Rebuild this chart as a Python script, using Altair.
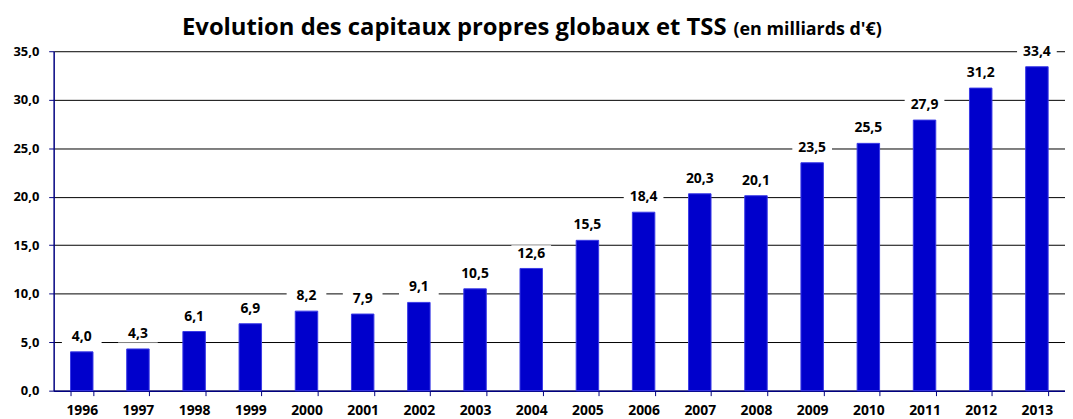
import altair as alt
import pandas as pd

years = ["1996", "1997", "1998", "1999", "2000", "2001", "2002", "2003", "2004",
         "2005", "2006", "2007", "2008", "2009", "2010", "2011", "2012", "2013"]
values = [4.0, 4.3, 6.1, 6.9, 8.2, 7.9, 9.1, 10.5, 12.6,
          15.5, 18.4, 20.3, 20.1, 23.5, 25.5, 27.9, 31.2, 33.4]
y_ticks = [0, 5, 10, 15, 20, 25, 30, 35]
title_main = "Evolution des capitaux propres globaux et TSS"
title_unit = "(en milliards d'€)"

FONT = "Open Sans"
NAVY = "#000080"
BAR = "#0000CC"

df = pd.DataFrame({"year": years, "value": values})

fmt = "replace(format(datum.value, '.1f'), '.', ',')"

x = alt.X("year:N", sort=None,
          scale=alt.Scale(paddingInner=0.6, paddingOuter=0.3),
          axis=alt.Axis(title=None, labelAngle=0, labelFont=FONT, labelFontWeight="bold",
                        labelFontSize=14, labelColor="black", domainColor=NAVY,
                        domainWidth=1.5, tickColor=NAVY, tickSize=5, tickBand="extent",
                        labelPadding=8, grid=False))
y = alt.Y("value:Q",
          scale=alt.Scale(domain=[0, 35], nice=False, zero=True),
          axis=alt.Axis(title=None, values=y_ticks, labelExpr=fmt, labelFont=FONT,
                        labelFontWeight="bold", labelFontSize=13, labelColor="black",
                        grid=True, gridColor="black", gridWidth=1, domainColor=NAVY,
                        domainWidth=1.5, tickColor=NAVY, tickSize=5, labelPadding=10))

base = alt.Chart(df).transform_calculate(label=fmt)

bars = base.mark_bar(color=BAR, stroke="#3A3AE6", strokeWidth=1).encode(x=x, y=y)

boxes = base.mark_point(filled=True, color="white", opacity=1, strokeWidth=0,
                        shape="M-1,-0.42H1V0.42H-1Z", size=1600, yOffset=-15).encode(
    x=alt.X("year:N", sort=None), y=alt.Y("value:Q"))

labels = base.mark_text(font=FONT, fontWeight="bold", fontSize=14, color="black",
                        baseline="middle", dy=-15).encode(
    x=alt.X("year:N", sort=None), y=alt.Y("value:Q"), text="label:N")

t1 = alt.Chart(pd.DataFrame({"t": [title_main]})).mark_text(
    font=FONT, fontWeight="bold", fontSize=24, color="black", align="right",
    baseline="alphabetic").encode(text="t:N", x=alt.value(678), y=alt.value(-16))
t2 = alt.Chart(pd.DataFrame({"t": [title_unit]})).mark_text(
    font=FONT, fontWeight="bold", fontSize=18, color="black", align="left",
    baseline="alphabetic").encode(text="t:N", x=alt.value(685), y=alt.value(-16))

chart = alt.layer(bars, boxes, labels, t1, t2).properties(
    width=1019, height=342,
    autosize=alt.AutoSizeParams(type="none"),
    padding={"left": 46, "top": 42, "right": 0, "bottom": 27},
    background="white",
).configure_view(stroke=None)

chart.save("out.html", embed_options={"renderer": "svg", "actions": False})
